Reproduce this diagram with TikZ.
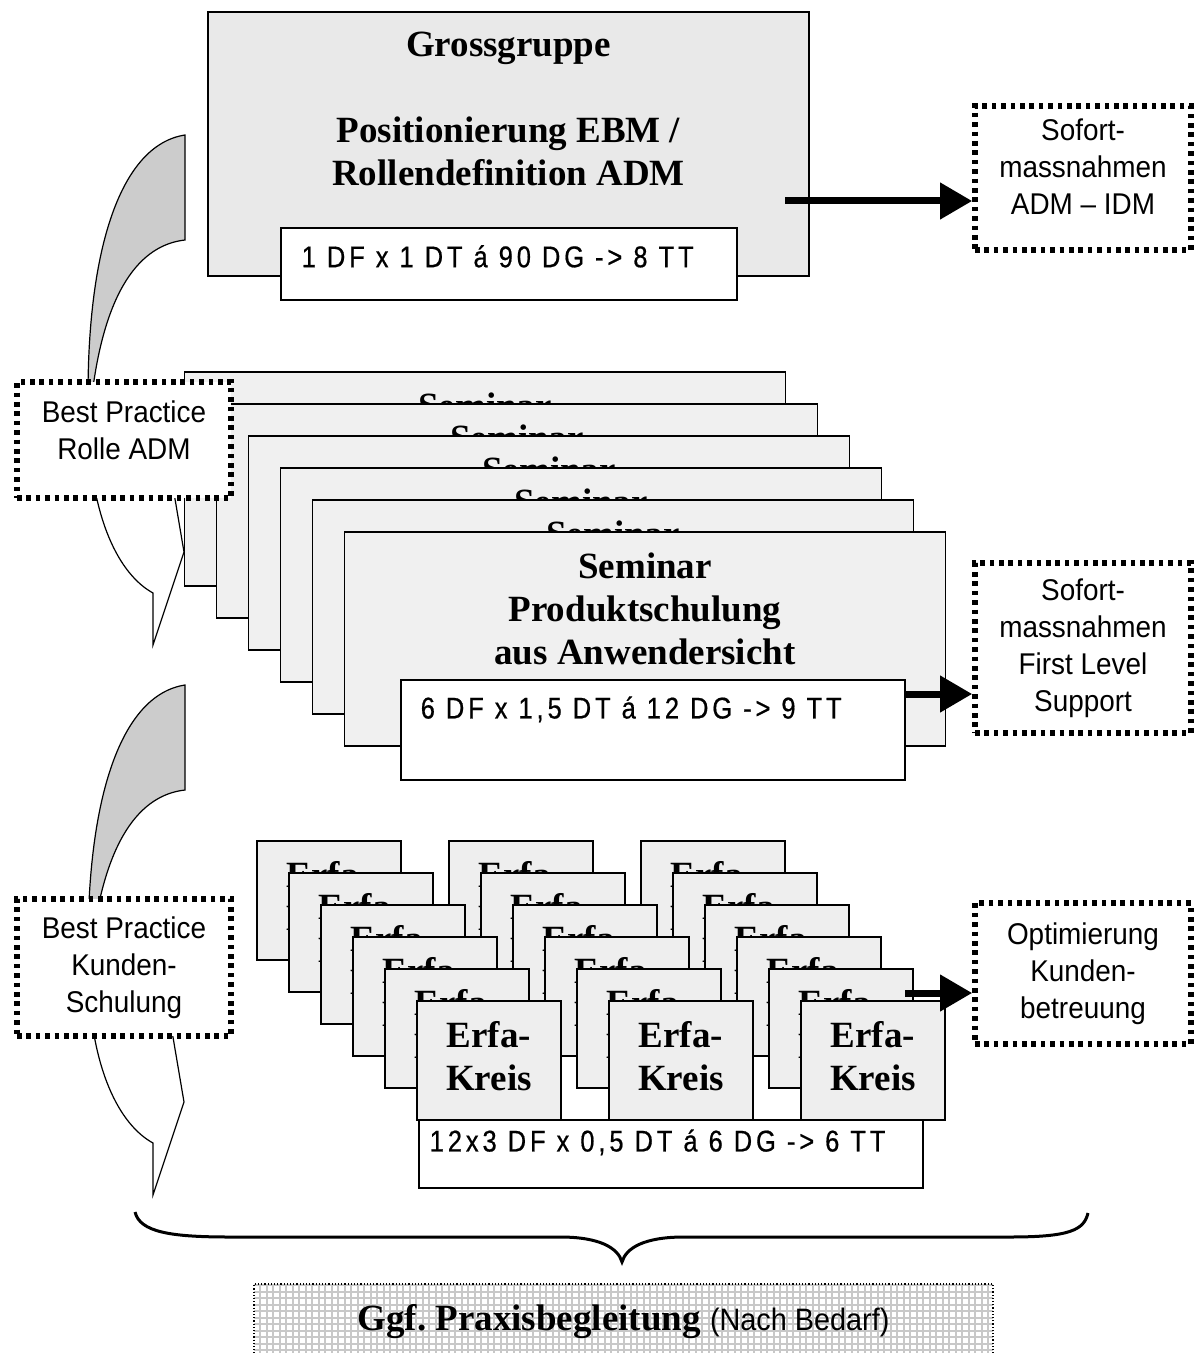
\documentclass[tikz,border=0pt]{standalone}
\usepackage{fontspec}
\setmainfont{Liberation Serif}
\setsansfont{Liberation Sans}[FakeStretch=0.93]
\newfontfamily\infofont{Liberation Sans}[FakeStretch=0.85,FakeBold=0.6,LetterSpace=13]
\usetikzlibrary{arrows.meta,positioning,calc}

\definecolor{grossgray}{HTML}{E9E9E9}
\definecolor{semgray}{HTML}{F0F0F0}
\definecolor{erfagray}{HTML}{EEEEEE}
\definecolor{arcgray}{HTML}{CCCCCC}
\definecolor{gridgray}{HTML}{C8C8C8}

\begin{document}
\begin{tikzpicture}[x=0.5pt, y=-0.5pt,
  box/.style={draw, line width=0.65pt, inner sep=0pt},
  titletext/.style={align=center, inner sep=0pt, font=\bfseries\fontsize{18.5}{21.5}\selectfont},
  infotext/.style={anchor=west, inner sep=0pt, font=\infofont\fontsize{15}{17}\selectfont},
  dotbox/.style={draw, fill=white, line width=2.8pt, dash pattern=on 2.3pt off 2.4pt,
    align=center, inner sep=0pt, font=\sffamily\fontsize{15}{18.5}\selectfont},
  bigarrow/.style={line width=3.5pt, -{Triangle[length=16pt,width=17.5pt]}},
  callout/.style={draw, line width=0.6pt}
]
\useasboundingbox (0,0) rectangle (1195,1353);

% curved arrows behind the left boxes
\foreach \dy in {0,-275}{
  \begin{scope}[yshift=\dy pt]
    \filldraw[callout, fill=arcgray] (185,135) .. controls (120,145) and (88,250) .. (88,395)
      -- (92,395) .. controls (105,290) and (140,245) .. (185,240) -- cycle;
    \filldraw[callout, fill=white] (88,420) .. controls (90,520) and (120,575) .. (153,593)
      -- (153,645) -- (184,552) -- (165,440) -- cycle;
  \end{scope}
}

% Grossgruppe
\node[box, fill=grossgray, minimum width=300.5pt, minimum height=132pt] (gross) at (508.5,144) {};
\node[titletext, below=10pt of gross.north] (grossText) {Grossgruppe\\[21.5pt]Positionierung EBM /\\Rollendefinition ADM};
\node[box, fill=white, minimum width=228pt, minimum height=36pt] (grossInfo) at (509,264) {};
\node[infotext] (grossInfoText) at ($(grossInfo.north west)+(21,29)$) {1 DF x 1 DT á 90 DG -> 8 TT};

% Seminar stack
\foreach \i in {0,...,5}{
  \node[box, fill=semgray, minimum width=300.5pt, minimum height=107pt] (sem\i) at ({485+32*\i},{479+32*\i}) {};
  \node[titletext, below=10.5pt of sem\i.north] (semText\i) {Seminar\\Produktschulung\\aus Anwendersicht};
}
\node[box, fill=white, minimum width=252pt, minimum height=50pt] (semInfo) at (653,730) {};
\node[infotext] (semInfoText) at ($(semInfo.north west)+(20,30)$) {6 DF x 1,5 DT á 12 DG -> 9 TT};

% Erfa-Kreise, three stacks
\foreach \i in {0,...,5}{
  \foreach \c in {0,1,2}{
    \node[box, titletext, fill=erfagray, minimum width=72pt, minimum height=59.5pt, text depth=4.5pt]
      (erfa\c\i) at ({329+192*\c+32*\i},{900.5+32*\i}) {Erfa-\\Kreis};
  }
}
\node[box, fill=white, minimum width=252pt, minimum height=34pt] (erfaInfo) at (671,1154) {};
\node[infotext] (erfaInfoText) at ($(erfaInfo.north west)+(11,23)$) {12x3 DF x 0,5 DT á 6 DG -> 6 TT};

% dotted boxes
\node[dotbox, minimum width=108pt, minimum height=72pt, text depth=11pt] (sofortA) at (1083,178) {Sofort-\\massnahmen\\ADM – IDM};
\node[dotbox, minimum width=108pt, minimum height=85pt] (sofortB) at (1083,648) {Sofort-\\massnahmen\\First Level\\Support};
\node[dotbox, minimum width=108pt, minimum height=70.5pt] (optim) at (1083,973.5) {Optimierung\\Kunden-\\betreuung};
\node[dotbox, minimum width=107pt, minimum height=58pt, text depth=10pt] (bestA) at (124,440) {Best Practice\\Rolle ADM};
\node[dotbox, minimum width=107pt, minimum height=68.5pt] (bestB) at (124,967.5) {Best Practice\\Kunden-\\Schulung};

% arrows
\coordinate (grossOut) at (785,201);
\coordinate (semOut) at (905,694);
\coordinate (erfaOut) at (905,993);
\draw[bigarrow] (grossOut) -- (grossOut -| sofortA.west);
\draw[bigarrow] (semOut) -- (semOut -| sofortB.west);
\draw[bigarrow] (erfaOut) -- (erfaOut -| optim.west);

% brace
\draw[line width=1.5pt] (135,1212) .. controls (140,1232) and (170,1237) .. (230,1237) -- (560,1237)
  .. controls (600,1237) and (618,1248) .. (622,1262)
  .. controls (626,1248) and (644,1237) .. (684,1237) -- (1010,1237)
  .. controls (1070,1237) and (1084,1230) .. (1088,1213);

% Praxisbegleitung
\node[draw, densely dotted, line width=0.6pt, fill=white, inner sep=0pt,
  minimum width=369.5pt, minimum height=38pt,
  path picture={\draw[solid, gridgray, line width=1pt] (path picture bounding box.south west) grid[step=3.25pt] (path picture bounding box.north east);}]
  (praxis) at (623.5,1322) {\bfseries\fontsize{18.5}{21.5}\selectfont Ggf.\ Praxisbegleitung {\mdseries\sffamily\fontsize{15.5}{18}\selectfont(Nach Bedarf)}};
\end{tikzpicture}
\end{document}
